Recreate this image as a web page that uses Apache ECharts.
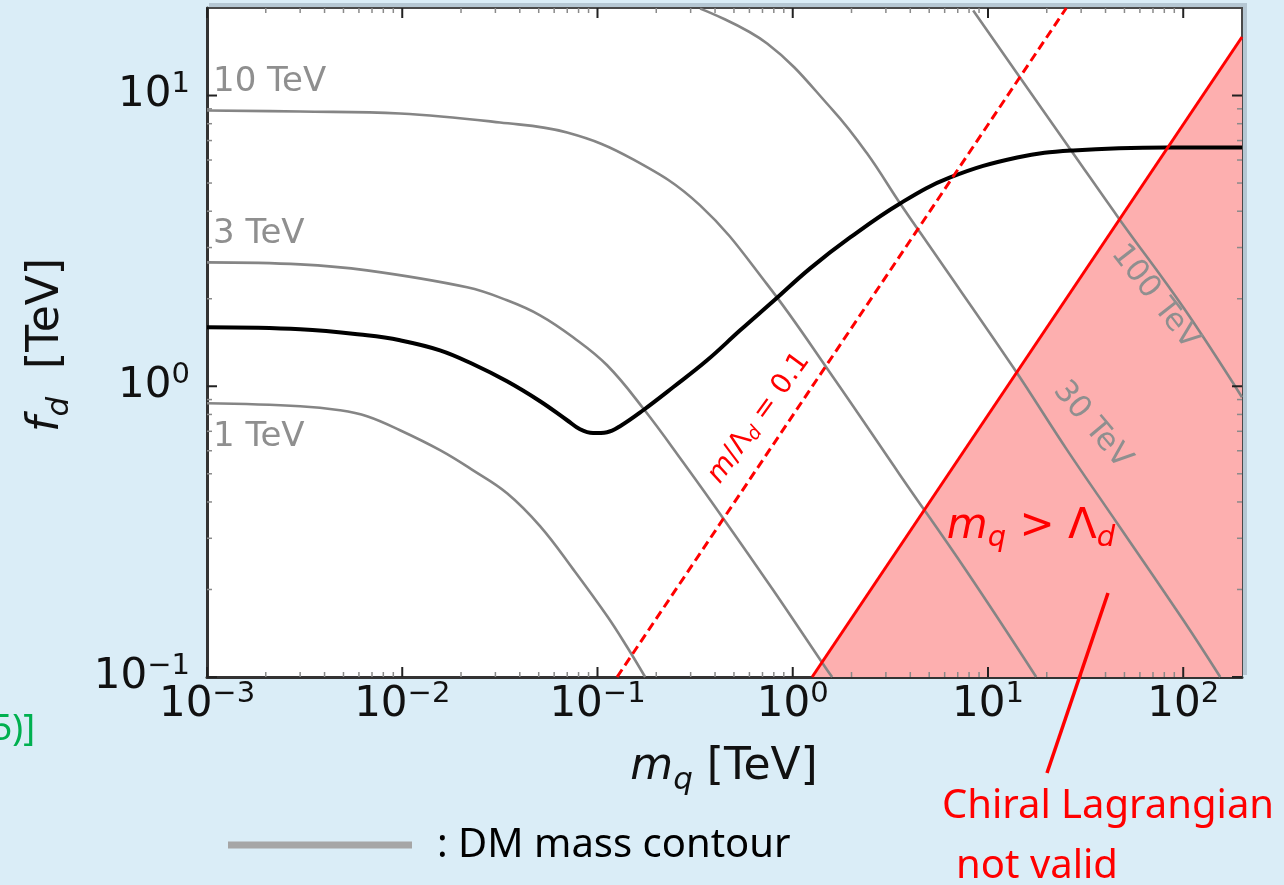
<!DOCTYPE html>
<html>
<head>
<meta charset="utf-8">
<title>f_d vs m_q</title>
<script src="https://cdn.jsdelivr.net/npm/echarts@6/dist/echarts.min.js"></script>
<style>
html, body { margin: 0; padding: 0; background: #daedf7; }
#main { width: 1284px; height: 885px; }
</style>
</head>
<body>
<div id="main"></div>
<script type="text/javascript">
// axis ranges and tick positions (TeV)
var xRange = [0.001, 200];
var yRange = [0.1, 20];
var xMajor = [0.001, 0.01, 0.1, 1, 10, 100];
var yMajor = [0.1, 1, 10];
var minorSteps = [2, 3, 4, 5, 6, 7, 8, 9];

// black curve
var fdCurve = [[0.001, 1.595], [0.003, 1.570], [0.0066, 1.497], [0.00974, 1.439], [0.0156, 1.329],
  [0.0231, 1.190], [0.0344, 1.040], [0.0508, 0.888], [0.0699, 0.764], [0.0814, 0.711],
  [0.0949, 0.690], [0.112, 0.695], [0.1305, 0.729], [0.1713, 0.827], [0.2439, 0.992],
  [0.3642, 1.228], [0.5377, 1.557], [0.7936, 1.960], [1.228, 2.544], [1.968, 3.25],
  [3.549, 4.255], [6.40, 5.225], [14.11, 6.12], [27.33, 6.47], [82.8, 6.625], [200, 6.625]];

// DM mass contours (grey)
var contour1 = [[0.001, 0.874], [0.003, 0.854], [0.0048, 0.827], [0.0066, 0.789], [0.00974, 0.706],
  [0.01561, 0.603], [0.02306, 0.514], [0.03442, 0.4288], [0.05079, 0.3304], [0.07499, 0.235],
  [0.112, 0.1621], [0.1418, 0.1268], [0.1754, 0.1]];
var contour3 = [[0.001, 2.668], [0.003, 2.626], [0.0066, 2.503], [0.02148, 2.189], [0.03442, 1.975],
  [0.05079, 1.754], [0.07499, 1.474], [0.112, 1.181], [0.1713, 0.840], [0.2745, 0.548],
  [0.4399, 0.3519], [0.7936, 0.1991], [1.50, 0.1057], [1.591, 0.1]];
var contour10 = [[0.001, 8.881], [0.003, 8.81], [0.00974, 8.675], [0.0317, 8.075], [0.0699, 7.46],
  [0.1522, 6.03], [0.3354, 4.188], [0.7394, 2.241], [1.611, 1.074], [3.549, 0.4946],
  [7.82, 0.2296], [17.66, 0.1]];
var contour30 = [[0.3354, 19.9], [0.7394, 15.09], [1.611, 8.881], [2.405, 6.32], [3.549, 4.255],
  [5.24, 2.911], [13.46, 1.162], [25.45, 0.603], [45.9, 0.338], [100, 0.157], [154.7, 0.1]];
var contour100 = [[8.40, 19.6], [14.11, 11.9], [27.33, 6.32], [47.6, 3.72], [100, 1.868], [200, 0.917]];

// m_q = Lambda_d boundary and m/Lambda_d = 0.1
var chiralEdge = [[1.257, 0.1], [200, 15.9]];
var ratioLine = [[0.126, 0.1], [25.2, 20]];

var FONT = 'DejaVu Sans';
var RED = '#ff0000';
var GREY = '#858585';
var LABEL_GREY = '#8f8f8f';

function powLabel(v) {
    var e = Math.round(Math.log10(v));
    if (Math.abs(v / Math.pow(10, e) - 1) > 1e-6) return '';
    return '{b|10}{s|' + (e < 0 ? '\u2212' + (-e) : e) + '}';
}
var tickRich = {
    b: { fontFamily: FONT, fontSize: 42, lineHeight: 50, color: '#111' },
    s: { fontFamily: FONT, fontSize: 29, lineHeight: 30, padding: [0, 0, 22, 0], color: '#111' }
};

function tickList(majors, max) {
    var out = [];
    majors.forEach(function (m) {
        out.push([m, 1]);
        minorSteps.forEach(function (s) {
            if (m * s < max) out.push([m * s, 0]);
        });
    });
    return out;
}
var xTicks = tickList(xMajor, xRange[1]).map(function (t) { return [t[0], yRange[0], t[1]]; });
var yTicks = tickList(yMajor, yRange[1]).map(function (t) { return [xRange[0], t[0], t[1]]; });

function tickStyle(major) {
    return { stroke: major ? '#222' : '#8a8a8a', lineWidth: major ? 2 : 1.5 };
}
function renderXTick(params, api) {
    var v = api.value(0), major = api.value(2);
    var b = api.coord([v, yRange[0]]), t = api.coord([v, yRange[1]]);
    var len = major ? 10 : 5;
    return { type: 'group', children: [
        { type: 'line', shape: { x1: b[0], y1: b[1], x2: b[0], y2: b[1] - len }, style: tickStyle(major) },
        { type: 'line', shape: { x1: t[0], y1: t[1], x2: t[0], y2: t[1] + len }, style: tickStyle(major) }
    ]};
}
function renderYTick(params, api) {
    var v = api.value(1), major = api.value(2);
    var l = api.coord([xRange[0], v]), r = api.coord([xRange[1], v]);
    var len = major ? 10 : 5;
    return { type: 'group', children: [
        { type: 'line', shape: { x1: l[0], y1: l[1], x2: l[0] + len, y2: l[1] }, style: tickStyle(major) },
        { type: 'line', shape: { x1: r[0], y1: r[1], x2: r[0] - len, y2: r[1] }, style: tickStyle(major) }
    ]};
}

function greyLine(data) {
    return { type: 'line', data: data, smooth: 0.4, symbol: 'none', z: 3,
        lineStyle: { color: GREY, width: 2.6 } };
}
function plainText(x, y, text) {
    return { type: 'text', x: x, y: y, z: 100,
        style: { text: text, fontFamily: FONT, fontSize: 34, fill: LABEL_GREY, verticalAlign: 'middle' } };
}

var chart = echarts.init(document.getElementById('main'));
var option = {
    backgroundColor: '#daedf7',
    animation: false,
    grid: { left: 207, right: 42, top: 8, bottom: 208, show: true, backgroundColor: '#fff',
        borderColor: '#4a4a4a', borderWidth: 2, outerBoundsMode: 'none' },
    xAxis: {
        type: 'log', min: xRange[0], max: xRange[1], logBase: 10,
        axisLine: { show: true, lineStyle: { color: '#333', width: 3 } },
        axisTick: { show: false }, splitLine: { show: false },
        axisLabel: { formatter: powLabel, rich: tickRich, margin: 3 }
    },
    yAxis: {
        type: 'log', min: yRange[0], max: yRange[1], logBase: 10,
        axisLine: { show: true, lineStyle: { color: '#333', width: 3 } },
        axisTick: { show: false }, splitLine: { show: false },
        axisLabel: { formatter: powLabel, rich: tickRich, margin: 17, align: 'right' }
    },
    series: [
        { type: 'line', data: chiralEdge, symbol: 'none', z: 1,
          lineStyle: { width: 0 }, areaStyle: { color: '#fdafaf', opacity: 1, origin: 'start' } },
        greyLine(contour1), greyLine(contour3), greyLine(contour10),
        greyLine(contour30), greyLine(contour100),
        { type: 'line', data: fdCurve, smooth: 0.4, symbol: 'none', z: 4,
          lineStyle: { color: '#000', width: 4 } },
        { type: 'line', data: ratioLine, symbol: 'none', z: 5,
          lineStyle: { color: RED, width: 3, type: [9, 5] } },
        { type: 'line', data: chiralEdge, symbol: 'none', z: 5,
          lineStyle: { color: RED, width: 3 } },
        { type: 'custom', data: xTicks, renderItem: renderXTick, z: 6, silent: true },
        { type: 'custom', data: yTicks, renderItem: renderYTick, z: 6, silent: true }
    ],
    graphic: [
        { type: 'rect', z: -1, shape: { x: 209, y: 3, width: 1038, height: 672 }, style: { fill: '#b5c7d3' } },
        // contour labels
        plainText(213, 82, '10 TeV'),
        plainText(213, 234, '3 TeV'),
        plainText(213, 437, '1 TeV'),
        { type: 'text', x: 1155, y: 297, z: 100, rotation: -52 * Math.PI / 180,
          style: { text: '100 TeV', fontFamily: FONT, fontSize: 31, fill: LABEL_GREY, align: 'center', verticalAlign: 'middle' } },
        { type: 'text', x: 1092, y: 425, z: 100, rotation: -50 * Math.PI / 180,
          style: { text: '30 TeV', fontFamily: FONT, fontSize: 31, fill: LABEL_GREY, align: 'center', verticalAlign: 'middle' } },
        // m/Lambda_d = 0.1
        { type: 'text', x: 759, y: 418, z: 100, rotation: 54 * Math.PI / 180,
          style: { text: '{i|m}{n|/Λ}{sub|d}{n| = 0.1}', align: 'center', verticalAlign: 'middle',
            rich: {
                i: { fontFamily: FONT, fontSize: 28, fontStyle: 'italic', fill: RED },
                n: { fontFamily: FONT, fontSize: 28, fill: RED },
                sub: { fontFamily: FONT, fontSize: 19, fontStyle: 'italic', fill: RED, padding: [12, 0, 0, 0] }
            } } },
        // m_q > Lambda_d
        { type: 'text', x: 1031, y: 527, z: 100,
          style: { text: '{i|m}{sub|q}{n| > Λ}{sub|d}', align: 'center', verticalAlign: 'middle',
            rich: {
                i: { fontFamily: FONT, fontSize: 42, fontStyle: 'italic', fill: RED },
                n: { fontFamily: FONT, fontSize: 42, fill: RED },
                sub: { fontFamily: FONT, fontSize: 29, fontStyle: 'italic', fill: RED, padding: [22, 0, 0, 0] }
            } } },
        // axis titles
        { type: 'text', x: 724, y: 768, z: 100,
          style: { text: '{i|m}{sub|q}{n| [TeV]}', align: 'center', verticalAlign: 'middle',
            rich: {
                i: { fontFamily: FONT, fontSize: 44, fontStyle: 'italic', fill: '#111' },
                n: { fontFamily: FONT, fontSize: 44, fill: '#111' },
                sub: { fontFamily: FONT, fontSize: 31, fontStyle: 'italic', fill: '#111', padding: [26, 0, 0, 0] }
            } } },
        { type: 'text', x: 47, y: 345, z: 100, rotation: Math.PI / 2,
          style: { text: '{i|f}{sub|d}{n|  [TeV]}', align: 'center', verticalAlign: 'middle',
            rich: {
                i: { fontFamily: FONT, fontSize: 44, fontStyle: 'italic', fill: '#111' },
                n: { fontFamily: FONT, fontSize: 44, fill: '#111' },
                sub: { fontFamily: FONT, fontSize: 31, fontStyle: 'italic', fill: '#111', padding: [26, 0, 0, 0] }
            } } },
        // annotation
        { type: 'line', z: 100, shape: { x1: 1108, y1: 593, x2: 1047, y2: 773 }, style: { stroke: RED, lineWidth: 3.5 } },
        { type: 'text', x: 1108, y: 807, z: 100, style: { text: 'Chiral Lagrangian', fontFamily: 'Noto Sans', fontSize: 40, fill: RED, align: 'center', verticalAlign: 'middle' } },
        { type: 'text', x: 1037, y: 867, z: 100, style: { text: 'not valid', fontFamily: 'Noto Sans', fontSize: 40, fill: RED, align: 'center', verticalAlign: 'middle' } },
        // legend
        { type: 'line', z: 100, shape: { x1: 228, y1: 845, x2: 412, y2: 845 }, style: { stroke: '#a6a6a6', lineWidth: 7 } },
        { type: 'text', x: 437, y: 846, z: 100, style: { text: ': DM mass contour', fontFamily: 'Noto Sans', fontSize: 40, fill: '#000', verticalAlign: 'middle' } },
        { type: 'text', x: 35, y: 730, z: 100, style: { text: '5)]', fontFamily: 'Noto Sans', fontSize: 36, fill: '#00b050', align: 'right', verticalAlign: 'middle' } }
    ]
};
chart.setOption(option);
</script>
</body>
</html>
